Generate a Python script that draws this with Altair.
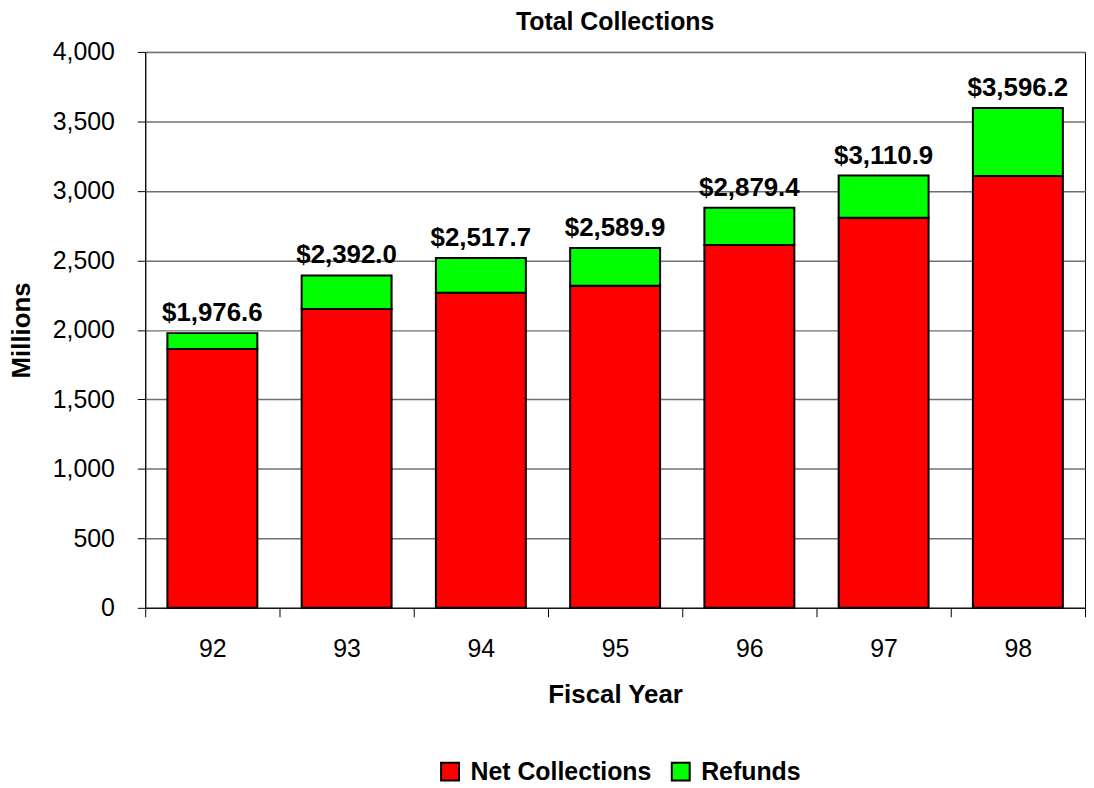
import altair as alt
import pandas as pd

years = ["92", "93", "94", "95", "96", "97", "98"]
net_collections = [1863, 2151, 2268, 2317, 2611, 2806, 3108]
refunds = [113.6, 241.0, 249.7, 272.9, 268.4, 304.9, 488.2]
totals = [1976.6, 2392.0, 2517.7, 2589.9, 2879.4, 3110.9, 3596.2]
series = ["Net Collections", "Refunds"]
colors = ["#FF0000", "#00FF00"]
y_ticks = list(range(0, 4001, 500))

rows = []
for yr, n, r in zip(years, net_collections, refunds):
    rows.append({"year": yr, "series": series[0], "value": n, "order": 0})
    rows.append({"year": yr, "series": series[1], "value": r, "order": 1})
df = pd.DataFrame(rows)
tot = pd.DataFrame({"year": years, "value": totals,
                    "label": [f"${t:,.1f}" for t in totals]})

FONT = "Liberation Sans"
FS = 26

x_enc = alt.X(
    "year:N", title="Fiscal Year", sort=years,
    scale=alt.Scale(paddingInner=0, paddingOuter=0),
    axis=alt.Axis(labelAngle=0, tickBand="extent", tickSize=9, labelPadding=20,
                  titlePadding=20, domainColor="black", tickColor="black",
                  labelFontSize=FS - 1, titleFontSize=FS, labelFont=FONT, titleFont=FONT,
                  labelColor="black", titleColor="black", titleFontWeight="bold", grid=False),
)
y_scale = alt.Scale(domain=[0, 4000], nice=False)
y_axis = alt.Axis(values=y_ticks, format=",d", tickSize=8, labelPadding=23, titlePadding=18,
                  domainColor="black", tickColor="black", gridColor="#707070", gridWidth=1.5,
                  labelFontSize=FS - 1, titleFontSize=FS, labelFont=FONT, titleFont=FONT,
                  labelColor="black", titleColor="black", titleFontWeight="bold")

bars = alt.Chart(df).mark_bar(
    width=alt.RelativeBandSize(0.67), stroke="black", strokeWidth=2
).encode(
    x=x_enc,
    y=alt.Y("value:Q", stack="zero", scale=y_scale, axis=y_axis, title="Millions"),
    color=alt.Color(
        "series:N", scale=alt.Scale(domain=series, range=colors),
        legend=alt.Legend(title=None, orient="none", direction="horizontal",
                          legendX=294, legendY=711, symbolType="square", symbolSize=324,
                          symbolStrokeColor="black", symbolStrokeWidth=2, symbolOpacity=1,
                          labelFontSize=FS - 1, labelFont=FONT, labelFontWeight="bold",
                          labelColor="black", labelOffset=8, columnPadding=16, labelLimit=0),
    ),
    order=alt.Order("order:Q"),
)

labels = alt.Chart(tot).mark_text(
    font=FONT, fontSize=FS, fontWeight="bold", color="black", baseline="alphabetic", dy=-12
).encode(
    x=x_enc,
    y=alt.Y("value:Q", scale=y_scale, axis=y_axis, title="Millions"),
    text="label:N",
)

chart = alt.layer(bars, labels).properties(
    width=945, height=559,
    title=alt.TitleParams("Total Collections", font=FONT, fontSize=FS - 1, fontWeight="bold",
                          color="black", offset=5, anchor="middle"),
    padding={"left": 0, "top": 0, "right": 0, "bottom": 0},
).configure_view(stroke="black", strokeWidth=1)

chart.save("out.html", embed_options={"renderer": "svg", "actions": False})
